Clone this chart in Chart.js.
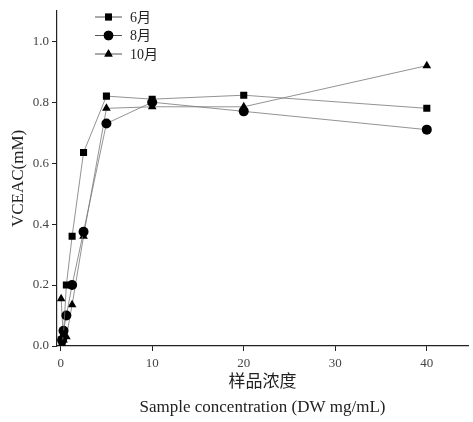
<!DOCTYPE html>
<html>
<head>
<meta charset="utf-8">
<script src="https://cdn.jsdelivr.net/npm/chart.js@4/dist/chart.umd.min.js"></script>
<style>
  html, body { margin: 0; padding: 0; background: #fff; }
  #wrap { width: 473px; height: 422px; }
</style>
</head>
<body>
<div id="wrap"><canvas id="c"></canvas></div>
<script>
const SERIF = '"Liberation Serif", "Times New Roman", "Noto Sans CJK SC", serif';

const seriesNames = ['6月', '8月', '10月'];
const markerStyles = ['rect', 'circle', 'triangle'];

const xJune = [0.156, 0.3125, 0.625, 1.25, 2.5, 5, 10, 20, 40];
const yJune = [0.01, 0.04, 0.2, 0.36, 0.635, 0.82, 0.81, 0.823, 0.78];

const xAug = [0.156, 0.3125, 0.625, 1.25, 2.5, 5, 10, 20, 40];
const yAug = [0.02, 0.05, 0.1, 0.2, 0.375, 0.73, 0.80, 0.77, 0.71];

const xOct = [0.05, 0.3125, 0.625, 1.25, 2.5, 5, 10, 20, 40];
const yOct = [0.155, 0.02, 0.03, 0.135, 0.36, 0.78, 0.785, 0.785, 0.92];

const xTicks = [0, 10, 20, 30, 40];
const yTicks = [0, 0.2, 0.4, 0.6, 0.8, 1.0];

function pts(xs, ys) {
  return xs.map((x, i) => ({ x, y: ys[i] }));
}

const allData = [pts(xJune, yJune), pts(xAug, yAug), pts(xOct, yOct)];

// legend drawn by hand: short grey line with the marker in its middle, like the original
const lineLegend = {
  id: 'lineLegend',
  afterDraw(chart) {
    const ctx = chart.ctx;
    ctx.save();
    seriesNames.forEach((name, i) => {
      const y = 17 + i * 18.5;
      ctx.strokeStyle = '#555';
      ctx.lineWidth = 1;
      ctx.beginPath();
      ctx.moveTo(95, y);
      ctx.lineTo(122, y);
      ctx.stroke();
      Chart.helpers.drawPoint(ctx, { pointStyle: markerStyles[i], radius: 4.8, borderWidth: 0 }, 108.5, y);
      ctx.fillStyle = '#000';
      ctx.fill();
      ctx.font = '14px ' + SERIF;
      ctx.textBaseline = 'middle';
      ctx.fillStyle = '#222';
      ctx.fillText(name, 130, y + 1);
    });
    ctx.restore();
  }
};

new Chart(document.getElementById('c'), {
  type: 'scatter',
  data: {
    datasets: seriesNames.map((name, i) => ({
      label: name,
      data: allData[i],
      showLine: true,
      borderColor: '#777',
      borderWidth: 0.8,
      pointStyle: markerStyles[i],
      pointRadius: 5,
      pointBackgroundColor: '#000',
      pointBorderColor: '#000',
      pointBorderWidth: 0
    }))
  },
  options: {
    responsive: true,
    maintainAspectRatio: false,
    animation: false,
    layout: { padding: { top: 10, right: 0, left: 0, bottom: 0 } },
    plugins: { legend: { display: false }, tooltip: { enabled: false } },
    scales: {
      x: {
        type: 'linear',
        min: -0.4,
        max: 44.5,
        afterBuildTicks: (axis) => { axis.ticks = xTicks.map((v) => ({ value: v })); },
        afterFit: (axis) => { axis.height = 76; },
        grid: { drawOnChartArea: false, tickLength: 5, color: '#222' },
        border: { color: '#222', width: 1.2 },
        ticks: { color: '#444', font: { family: SERIF, size: 13 }, padding: 5, maxRotation: 0 },
        title: {
          display: true,
          text: ['样品浓度', 'Sample concentration (DW mg/mL)'],
          color: '#222',
          font: { family: SERIF, size: 17, lineHeight: 1.47 },
          padding: { top: 4, bottom: 1.5 }
        }
      },
      y: {
        type: 'linear',
        min: 0,
        max: 1.1,
        afterBuildTicks: (axis) => { axis.ticks = yTicks.map((v) => ({ value: v })); },
        afterFit: (axis) => { axis.width = 57; },
        grid: { drawOnChartArea: false, tickLength: 5, color: '#222' },
        border: { color: '#222', width: 1.2 },
        ticks: { color: '#444', font: { family: SERIF, size: 13 }, padding: 3, callback: (v) => v.toFixed(1) },
        title: {
          display: true,
          text: 'VCEAC(mM)',
          color: '#222',
          font: { family: SERIF, size: 17 },
          padding: { top: 8, bottom: 0 }
        }
      }
    }
  },
  plugins: [lineLegend]
});
</script>
</body>
</html>
